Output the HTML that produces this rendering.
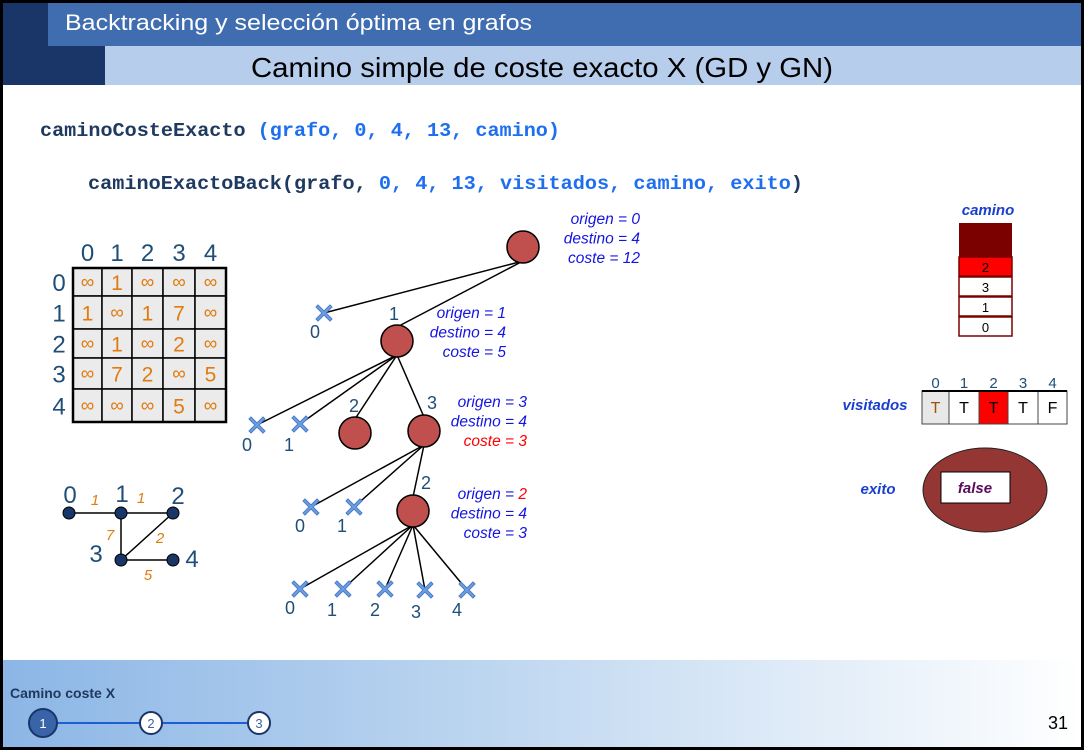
<!DOCTYPE html>
<html><head><meta charset="utf-8"><style>
html,body{margin:0;padding:0;background:#fff;}
svg{display:block;font-family:"Liberation Sans",sans-serif;}
</style></head><body>
<svg id="s" width="1084" height="750" viewBox="0 0 1084 750" xmlns="http://www.w3.org/2000/svg">
<defs>
<linearGradient id="fg" x1="0" x2="1" y1="0" y2="0"><stop offset="0" stop-color="#8cb6e6"/><stop offset="0.45" stop-color="#bdd6f0"/><stop offset="1" stop-color="#ffffff"/></linearGradient>
</defs>
<rect x="0" y="0" width="1084" height="750" fill="#000"/>
<rect x="3" y="3" width="1078" height="744" fill="#fff"/>
<rect x="3" y="3" width="50" height="82" fill="#1a3668"/>
<rect x="53" y="3" width="52" height="82" fill="#1a3668"/>
<rect x="48" y="3" width="1033" height="43" fill="#3f6db0"/>
<rect x="105" y="46" width="976" height="39" fill="#b7cdec"/>
<text x="65" y="30" font-size="22" fill="#fff" textLength="467" lengthAdjust="spacingAndGlyphs">Backtracking y selección óptima en grafos</text>
<text x="251" y="77" font-size="28" fill="#000" textLength="582" lengthAdjust="spacingAndGlyphs">Camino simple de coste exacto X (GD y GN)</text>

<text x="40" y="136" font-family="Liberation Mono,monospace" font-weight="bold" font-size="19" textLength="520" lengthAdjust="spacingAndGlyphs"><tspan fill="#1f3a60">caminoCosteExacto </tspan><tspan fill="#1e6ff0">(grafo, 0, 4, 13, camino)</tspan></text>
<text x="88" y="189" font-family="Liberation Mono,monospace" font-weight="bold" font-size="19" textLength="715" lengthAdjust="spacingAndGlyphs"><tspan fill="#1f3a60">caminoExactoBack(grafo, </tspan><tspan fill="#1e6ff0">0, 4, 13, visitados, camino, exito</tspan><tspan fill="#1f3a60">)</tspan></text>

<g id="matrix"></g>
<g id="graph"></g>
<g id="tree"></g>
<g id="right"></g>

<rect x="3" y="660" width="1078" height="87" fill="url(#fg)"/>
<text x="10" y="698" font-size="14" font-weight="bold" fill="#1f3a60">Camino coste X</text>
<line x1="43" y1="723" x2="259" y2="723" stroke="#1a5fd6" stroke-width="2"/>
<circle cx="43" cy="723" r="14" fill="#3a64a8" stroke="#1a3668" stroke-width="2"/>
<text x="43" y="728" font-size="13" fill="#fff" text-anchor="middle">1</text>
<circle cx="151" cy="723" r="11" fill="#fff" stroke="#1a3668" stroke-width="2"/>
<text x="151" y="728" font-size="13" fill="#3a64a8" text-anchor="middle">2</text>
<circle cx="259" cy="723" r="11" fill="#fff" stroke="#1a3668" stroke-width="2"/>
<text x="259" y="728" font-size="13" fill="#3a64a8" text-anchor="middle">3</text>
<text x="1068" y="729" font-size="18" fill="#000" text-anchor="end">31</text>
</svg>
<script>
const INF='∞';
const matrixValues=[[INF,'1',INF,INF,INF],['1',INF,'1','7',INF],[INF,'1',INF,'2',INF],[INF,'7','2',INF,'5'],[INF,INF,INF,'5',INF]];
const matrixHeaders=['0','1','2','3','4'];
const caminoStack=['2','3','1','0'];
const visitados=['T','T','T','T','F'];
const exito='false';
const NS='http://www.w3.org/2000/svg';
function mk(p,t,a,txt){const e=document.createElementNS(NS,t);for(const k in a)e.setAttribute(k,a[k]);if(txt!==undefined)e.textContent=txt;p.appendChild(e);return e;}

const M=document.getElementById('matrix');
const cx=[73,102,132,163,195,226], ry=[268,296,329,358,389,422];
for(let i=0;i<5;i++){
 let h=mk(M,'text',{x:(cx[i]+cx[i+1])/2,y:261,'font-size':24,fill:'#1f4e79','text-anchor':'middle'},matrixHeaders[i]);
 
 
 let r=mk(M,'text',{x:59,y:(ry[i]+ry[i+1])/2+9,'font-size':24,fill:'#1f4e79','text-anchor':'middle'},matrixHeaders[i]);
 
 
 for(let j=0;j<5;j++){
  let c=mk(M,'rect',{x:cx[j],y:ry[i],width:cx[j+1]-cx[j],height:ry[i+1]-ry[i],fill:'#ebebeb',stroke:'#000','stroke-width':1.5});
  
  
  const v=matrixValues[i][j];
  mk(M,'text',{x:(cx[j]+cx[j+1])/2,y:(ry[i]+ry[i+1])/2+(v===INF?6:8),'font-size':v===INF?19:21,fill:'#e07b10','text-anchor':'middle'},v);
 }
}
mk(M,'rect',{x:73,y:268,width:153,height:154,fill:'none',stroke:'#000','stroke-width':2.5});

const G=document.getElementById('graph');
const gn=[[69,513],[121,513],[173,513],[121,560],[173,560]];
const gEdges=[[0,1,'1',95,505],[1,2,'1',141,503],[1,3,'7',110,540],[2,3,'2',160,543],[3,4,'5',148,580]];
gEdges.forEach(e=>{mk(G,'line',{x1:gn[e[0]][0],y1:gn[e[0]][1],x2:gn[e[1]][0],y2:gn[e[1]][1],stroke:'#000','stroke-width':1.5});
 mk(G,'text',{x:e[3],y:e[4],'font-size':15,'font-style':'italic',fill:'#e07b10','text-anchor':'middle'},e[2]);});
const gl=[[70,503],[122,502],[178,504],[96,562],[192,567]];
gn.forEach((p,i)=>{let c=mk(G,'circle',{cx:p[0],cy:p[1],r:6,fill:'#1a3668',stroke:'#000'});
 
 
 mk(G,'text',{x:gl[i][0],y:gl[i][1],'font-size':24,fill:'#1f4e79','text-anchor':'middle'},String(i));});

const T=document.getElementById('tree');
const nodes={r:[523,247],n1:[397,341],n2:[355,433],n3:[424,431],n4:[413,511]};
const xs=[[324,313,'r','0',315,338],[257,425,'n1','0',247,451],[300,424,'n1','1',289,451],[311,507,'n3','0',300,532],[354,507,'n3','1',342,532],
[300,589,'n4','0',290,614],[343,589,'n4','1',332,616],[385,589,'n4','2',375,616],[425,590,'n4','3',416,618],[467,590,'n4','4',457,616]];
const tEdges=[['r','n1'],['n1','n2'],['n1','n3'],['n3','n4']];
xs.forEach(x=>{const p=nodes[x[2]];mk(T,'line',{x1:p[0],y1:p[1]+14,x2:x[0],y2:x[1],stroke:'#000','stroke-width':1.5});});
tEdges.forEach(e=>{const a=nodes[e[0]],b=nodes[e[1]];mk(T,'line',{x1:a[0],y1:a[1]+14,x2:b[0],y2:b[1]-14,stroke:'#000','stroke-width':1.5});});
Object.values(nodes).forEach(p=>{let c=mk(T,'circle',{cx:p[0],cy:p[1],r:16,fill:'#c0504d',stroke:'#000','stroke-width':1.5});
 
 });
xs.forEach(x=>{let g=mk(T,'g',{transform:`translate(${x[0]},${x[1]})`});
 
 
 mk(g,'path',{d:'M-6,-8 L0,-2 L6,-8 L8,-6 L2,0 L8,6 L6,8 L0,2 L-6,8 L-8,6 L-2,0 L-8,-6 Z',fill:'#6f9fe0',stroke:'#4a7cc8','stroke-width':1});
 mk(T,'text',{x:x[4],y:x[5],'font-size':18,fill:'#1f4e79','text-anchor':'middle'},x[3]);});
[['1',394,320],['2',354,412],['3',432,409],['2',426,489]].forEach(l=>mk(T,'text',{x:l[1],y:l[2],'font-size':18,fill:'#1f4e79','text-anchor':'middle'},l[0]));
const ann=[[640,224,[['origen = 0']],[['destino = 4']],[['coste = 12']]],
[506,318,[['origen = 1']],[['destino = 4']],[['coste = 5']]],
[527,407,[['origen = 3']],[['destino = 4']],[['coste = 3','red']]],
[527,499,[['origen = ',''],['2','red']],[['destino = 4']],[['coste = 3']]]];
ann.forEach(a=>{for(let k=0;k<3;k++){const t=mk(T,'text',{x:a[0],y:a[1]+k*19.5,'font-size':15.5,'font-style':'italic',fill:'#1515e0','text-anchor':'end'});
 
 
 a[2+k].forEach(s=>{const ts=mk(t,'tspan',{},s[0]);if(s[1]==='red')ts.setAttribute('fill','#ff0000');});}});

const R=document.getElementById('right');
mk(R,'text',{x:988,y:215,'font-size':15,'font-weight':'bold','font-style':'italic',fill:'#1a3fd0','text-anchor':'middle'},'camino');
mk(R,'rect',{x:959,y:223,width:53,height:34,fill:'#7b0000'});
caminoStack.forEach((v,i)=>{const y=257+i*20;let c=mk(R,'rect',{x:959,y:y,width:53,height:19,fill:i===0?'#ff0000':'#fff',stroke:'#7b0000','stroke-width':1.5});
 
 
 mk(R,'text',{x:985.5,y:y+15,'font-size':13,fill:'#000','text-anchor':'middle'},v);});
mk(R,'text',{x:875,y:410,'font-size':15,'font-weight':'bold','font-style':'italic',fill:'#1a3fd0','text-anchor':'middle'},'visitados');
const vx=[922,949,979,1008,1038,1067];
visitados.forEach((v,i)=>{let c=mk(R,'rect',{x:vx[i],y:391,width:vx[i+1]-vx[i],height:33,fill:i===0?'#e8e8e8':(i===2?'#ff0000':'#fff'),stroke:'#444','stroke-width':1});
 
 
 mk(R,'text',{x:(vx[i]+vx[i+1])/2,y:413,'font-size':16,fill:i===0?'#a0500a':'#000','text-anchor':'middle'},v);
 mk(R,'text',{x:(vx[i]+vx[i+1])/2,y:388,'font-size':15,fill:'#1f4e79','text-anchor':'middle'},String(i));});
mk(R,'line',{x1:922,y1:391,x2:1067,y2:391,stroke:'#000','stroke-width':2});
mk(R,'text',{x:878,y:494,'font-size':15,'font-weight':'bold','font-style':'italic',fill:'#1a3fd0','text-anchor':'middle'},'exito');
mk(R,'ellipse',{cx:985,cy:490,rx:62,ry:42,fill:'#943634',stroke:'#222','stroke-width':1});
mk(R,'rect',{x:941,y:472,width:69,height:31,fill:'#fff',stroke:'#000'});
mk(R,'text',{x:975,y:493,'font-size':15,'font-weight':'bold','font-style':'italic',fill:'#5c0a5c','text-anchor':'middle'},exito);
</script>
</body></html>
